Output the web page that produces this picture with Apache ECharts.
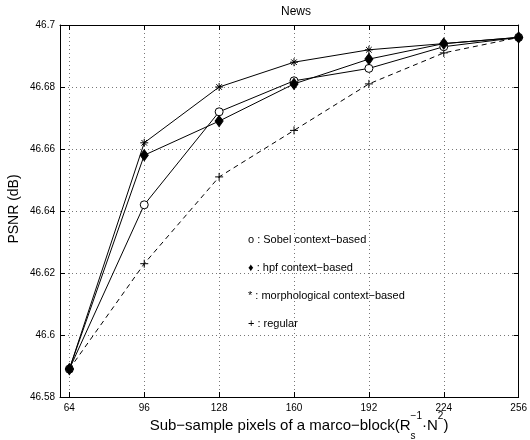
<!DOCTYPE html>
<html><head><meta charset="utf-8">
<script src="https://cdn.jsdelivr.net/npm/echarts@6/dist/echarts.min.js"></script>
<style>html,body{margin:0;padding:0;background:#fff}#c{width:530px;height:440px}</style>
</head><body><div id="c"></div>
<script>
const xValues = [64, 96, 128, 160, 192, 224, 256];
const sobel = [46.589, 46.642, 46.672, 46.682, 46.686, 46.693, 46.696];
const hpf = [46.589, 46.658, 46.669, 46.681, 46.689, 46.694, 46.696];
const morph = [46.589, 46.662, 46.680, 46.688, 46.692, 46.694, 46.696];
const regular = [46.589, 46.623, 46.651, 46.666, 46.681, 46.691, 46.696];
const xTicks = [64, 96, 128, 160, 192, 224, 256];
const legendLabels = ['o : Sobel context\u2212based', '\u2666 : hpf context\u2212based', '* : morphological context\u2212based', '+ : regular'];
const titleText = 'News';
const yName = 'PSNR (dB)';

const FONT = '"Liberation Sans", Arial, Helvetica, sans-serif';
const ctx = document.createElement('canvas').getContext('2d');
function tw(t, s) { ctx.font = s + 'px ' + FONT; return ctx.measureText(t).width; }

const pair = arr => xValues.map((x, i) => [x, arr[i]]);
const PLUS = 'path://M5,0L5,10M0,5L10,5';
const STAR = 'path://M5,0L5,10M0,5L10,5M1.5,1.5L8.5,8.5M1.5,8.5L8.5,1.5';

// x-axis name with sub/superscripts
const bigS = 15, smS = 10;
const p1 = 'Sub\u2212sample pixels of a marco\u2212block(R';
const p2 = '\u00b7N', p3 = ')';
const wsup = Math.max(tw('\u22121', smS), tw('s', smS));
const W = tw(p1, bigS) + wsup + tw(p2, bigS) + tw('2', smS) + tw(p3, bigS);
let cx = 299 - W / 2;
const yMid = 426;
const xg = [];
function add(t, s, dy) { xg.push({type:'text', x: cx, y: yMid + dy, style:{text:t, font: s + 'px ' + FONT, fill:'#000', textAlign:'left', textVerticalAlign:'middle'}}); }
add(p1, bigS, 0); cx += tw(p1, bigS);
add('\u22121', smS, -10); add('s', smS, 10); cx += wsup;
add(p2, bigS, 0); cx += tw(p2, bigS);
add('2', smS, -10); cx += tw('2', smS);
add(p3, bigS, 0);

const legendEls = legendLabels.map((t, i) => ({type:'text', x: 248, y: 240 + i * 28,
  style:{text:t, font:'11px ' + FONT, fill:'#000', textAlign:'left', textVerticalAlign:'middle'}}));

const gridLine = {show:true, lineStyle:{type:[1,3], color:'#777', width:1}};
const axisBlack = {show:true, lineStyle:{color:'#000', width:1}};
const lab = {color:'#000', fontSize:10, fontFamily:FONT};

const chart = echarts.init(document.getElementById('c'), null, {renderer:'canvas'});
chart.setOption({
  animation:false,
  backgroundColor:'#fff',
  title:{text:titleText, left:291, top:1, textAlign:'center', textStyle:{fontSize:12, fontWeight:'normal', color:'#000', fontFamily:FONT}},
  grid:{left:60, right:8, top:25, bottom:43, containLabel:false},
  xAxis:[
    {type:'value', min:60, max:256, position:'bottom', axisLine:axisBlack,
     axisTick:{show:true, inside:true, length:5, customValues:xTicks, lineStyle:{color:'#000'}},
     axisLabel:{customValues:xTicks, margin:6, ...lab}, splitLine:gridLine},
    {type:'value', min:60, max:256, position:'top', axisLine:axisBlack,
     axisTick:{show:true, inside:true, length:5, customValues:xTicks, lineStyle:{color:'#000'}},
     axisLabel:{show:false}, splitLine:{show:false}}
  ],
  yAxis:[
    {type:'value', min:46.58, max:46.7, interval:0.02, position:'left', axisLine:axisBlack,
     axisTick:{show:true, inside:true, length:5, lineStyle:{color:'#000'}},
     axisLabel:{margin:5, formatter:v => String(Number(v.toFixed(2))), ...lab}, splitLine:gridLine},
    {type:'value', min:46.58, max:46.7, interval:0.02, position:'right', axisLine:axisBlack,
     axisTick:{show:true, inside:true, length:5, lineStyle:{color:'#000'}},
     axisLabel:{show:false}, splitLine:{show:false}}
  ],
  graphic:[
    {type:'text', x:14, y:209, rotation:Math.PI/2, style:{text:yName, font:'14px ' + FONT, fill:'#000', textAlign:'center', textVerticalAlign:'middle'}},
    ...xg, ...legendEls
  ],
  series:[
    {name:'regular', type:'line', data:pair(regular), symbol:PLUS, symbolSize:8,
     lineStyle:{color:'#000', width:1, type:[5,4]}, itemStyle:{color:'none', borderColor:'#000', borderWidth:1}, z:2},
    {name:'Sobel', type:'line', data:pair(sobel), symbol:'circle', symbolSize:8,
     lineStyle:{color:'#000', width:1}, itemStyle:{color:'#fff', borderColor:'#000', borderWidth:1}, z:3},
    {name:'hpf', type:'line', data:pair(hpf), symbol:'diamond', symbolSize:[8,11],
     lineStyle:{color:'#000', width:1}, itemStyle:{color:'#000', borderColor:'#000', borderWidth:1}, z:4},
    {name:'morph', type:'line', data:pair(morph), symbol:STAR, symbolSize:8,
     lineStyle:{color:'#000', width:1}, itemStyle:{color:'none', borderColor:'#000', borderWidth:1}, z:5}
  ]
});
</script></body></html>
